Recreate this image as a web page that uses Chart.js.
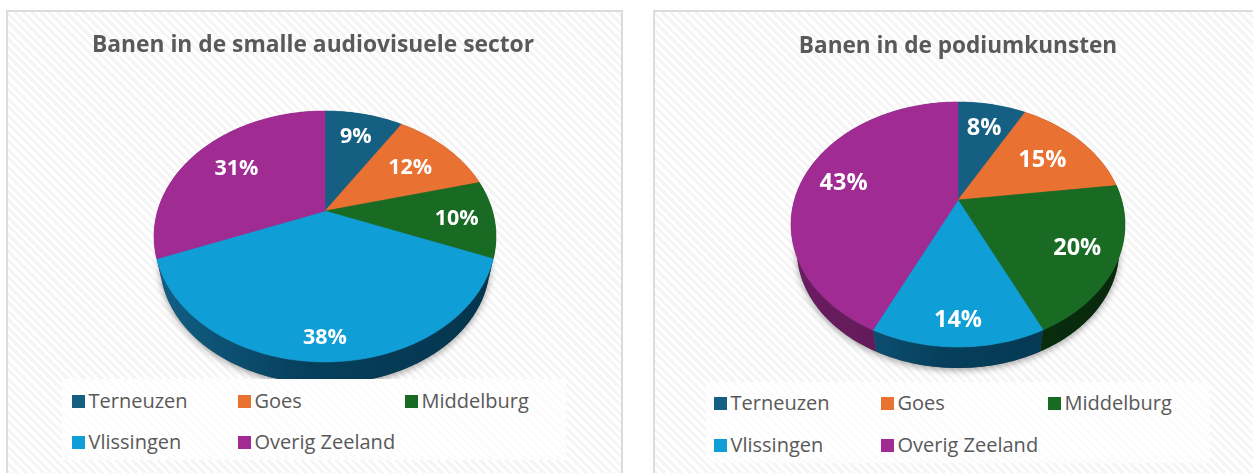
<!DOCTYPE html>
<html lang="nl">
<head>
<meta charset="utf-8">
<title>Banen in Zeeland</title>
<script src="https://cdn.jsdelivr.net/npm/chart.js@4"></script>
<style>
html,body{margin:0;padding:0;width:1253px;height:473px;overflow:hidden;background:#fff;font-family:"Open Sans",sans-serif}
.panel{position:absolute;top:10px;height:470px;box-sizing:border-box;border:2px solid #dcdcdc;
background:repeating-linear-gradient(45deg,#fff 0 3px,#f5f5f5 3px 6px)}
canvas{position:absolute;top:11px}
.legend{position:absolute;background:repeating-linear-gradient(45deg,#fff 0 3px,#fcfcfc 3px 6px);width:504px;height:81px}
.item{position:absolute;display:flex;align-items:center;color:#595959;font-size:20px;line-height:24px;white-space:nowrap}
.item i{display:block;width:13px;height:13px;margin-right:3.5px}
</style>
</head>
<body>
<div class="panel" style="left:6px;width:617px"></div>
<div class="panel" style="left:653px;width:640px"></div>
<canvas id="c1" width="612" height="462" style="left:7px"></canvas>
<canvas id="c2" width="590" height="462" style="left:663px"></canvas>
<div class="legend" id="l1" style="left:62px;top:379px"></div>
<div class="legend" id="l2" style="left:706px;top:382px"></div>
<script>
const categories = ["Terneuzen", "Goes", "Middelburg", "Vlissingen", "Overig Zeeland"];
const audiovisueelValues = [9, 12, 10, 38, 31];
const podiumValues = [8, 15, 20, 14, 43];
const audiovisueelTitle = "Banen in de smalle audiovisuele sector";
const podiumTitle = "Banen in de podiumkunsten";
const topColors = ["#156082", "#E97132", "#196B24", "#0F9ED5", "#A02B93"];

const sideColors = [
  ["#125a7c", "#0b4560", "#073650"],
  ["#a04a1c", "#7a3714", "#5c290e"],
  ["#0e4416", "#0a3210", "#08280c"],
  ["#125f84", "#063f5c", "#05354e"],
  ["#6a1c61", "#5e1a56", "#4e1547"]
];

/* Disc coordinates from the arc elements are put through a perspective projection. */
function project(view, el, angle, f){
  const u = Math.cos(angle) * f, v = Math.sin(angle) * f;
  const w = 1 - view.k * v;
  return { x: el.x + view.dx + view.A * u / w, y: el.y + view.B * v / w };
}

function arcPoints(view, el, a, b){
  const n = Math.max(4, Math.ceil((b - a) / 0.02)), pts = [];
  for (let i = 0; i <= n; i++) pts.push(project(view, el, a + (b - a) * i / n, 1));
  return pts;
}

/* Lower rim of the wall: same outline, slightly further from the eye. */
function lowerRim(view, el, p){
  const ax = el.x + view.dx, ay = el.y, s = view.rimScale;
  return { x: ax + (p.x - ax) * s, y: ay + view.depth + (1 - s) * view.B / (1 - view.k) + (p.y - ay) * s };
}

const tiltedPie = {
  id: "tiltedPie",
  beforeDatasetDraw(chart, args, opts){
    const ctx = chart.ctx, view = opts;
    const arcs = chart.getDatasetMeta(0).data.map(e => e.getProps(["x","y","startAngle","endAngle"], true));
    const first = arcs[0];
    const cx = first.x + view.dx;

    // soft shadow under the disc
    ctx.save();
    ctx.shadowColor = "rgba(0,0,0,0.38)";
    ctx.shadowBlur = 7;
    ctx.shadowOffsetY = 2;
    ctx.fillStyle = "#555";
    ctx.beginPath();
    arcPoints(view, first, -Math.PI/2, Math.PI*1.5).forEach((p,i)=>{
      const q = lowerRim(view, first, p);
      i ? ctx.lineTo(q.x,q.y) : ctx.moveTo(q.x,q.y);
    });
    ctx.closePath(); ctx.fill();
    ctx.restore();

    // side wall
    arcs.forEach((el,i)=>{
      const pts = arcPoints(view, el, el.startAngle, el.endAngle);
      const g = ctx.createLinearGradient(cx - view.A, 0, cx + view.A, 0);
      g.addColorStop(0, sideColors[i][0]);
      g.addColorStop(0.45, sideColors[i][1]);
      g.addColorStop(1, sideColors[i][2]);
      ctx.fillStyle = g;
      ctx.beginPath();
      pts.forEach((p,j)=> j ? ctx.lineTo(p.x,p.y) : ctx.moveTo(p.x,p.y));
      pts.slice().reverse().forEach(p=>{ const q = lowerRim(view, el, p); ctx.lineTo(q.x,q.y); });
      ctx.closePath(); ctx.fill();
    });

    // top surface
    arcs.forEach((el,i)=>{
      const pts = arcPoints(view, el, el.startAngle, el.endAngle);
      ctx.fillStyle = topColors[i];
      ctx.strokeStyle = topColors[i];
      ctx.lineWidth = 0.6;
      ctx.beginPath();
      const c = project(view, el, 0, 0);
      ctx.moveTo(c.x, c.y);
      pts.forEach(p=> ctx.lineTo(p.x,p.y));
      ctx.closePath(); ctx.fill(); ctx.stroke();
    });

    // value labels
    ctx.fillStyle = "#fff";
    ctx.font = 'bold ' + view.labelSize + 'px "Open Sans"';
    ctx.textAlign = "center";
    ctx.textBaseline = "middle";
    const values = chart.data.datasets[0].data;
    arcs.forEach((el,i)=>{
      const p = project(view, el, (el.startAngle + el.endAngle)/2, view.labelReach[i]);
      ctx.fillText(values[i] + "%", p.x, p.y + 1.5);
    });
    return false;
  }
};

function makePie(id, title, values, titleSize, titleTop, bottomPad, view){
  return new Chart(document.getElementById(id), {
    type: "pie",
    data: { labels: categories, datasets: [{ data: values, backgroundColor: topColors, borderWidth: 0 }] },
    options: {
      responsive: false,
      animation: false,
      layout: { padding: { bottom: bottomPad } },
      plugins: {
        legend: { display: false },
        tooltip: { enabled: false },
        title: {
          display: true, text: title, color: "#595959",
          font: { family: "Open Sans", size: titleSize, weight: "bold", lineHeight: 1.2 },
          padding: { top: titleTop, bottom: 0 }
        },
        tiltedPie: view
      }
    },
    plugins: [tiltedPie]
  });
}

function makeLegend(id, cols, rows){
  const box = document.getElementById(id);
  categories.forEach((name,i)=>{
    const d = document.createElement("div");
    d.className = "item";
    d.style.left = cols[i % 3] + "px";
    d.style.top = rows[Math.floor(i / 3)] + "px";
    const s = document.createElement("i");
    s.style.background = topColors[i];
    d.appendChild(s);
    d.appendChild(document.createTextNode(name));
    box.appendChild(d);
  });
}

// title block height = titleTop + 1.2 * titleSize; bottom padding keeps the apex at the wanted height
makePie("c1", audiovisueelTitle, audiovisueelValues, 22.8, 21.3, 462 - (400 - (21.3 + 27.36)),
  { k: 0.203, A: 167.4, B: 120.3, dx: 12, depth: 22, rimScale: 0.965, labelSize: 21.5, labelReach: [0.755, 0.68, 0.78, 0.86, 0.69] });
makePie("c2", podiumTitle, podiumValues, 22.6, 22, 462 - (378 - (22 + 27.12)),
  { k: 0.2, A: 163.6, B: 117.6, dx: 0, depth: 21, rimScale: 0.965, labelSize: 23.5, labelReach: [0.73, 0.67, 0.77, 0.84, 0.74] });
makeLegend("l1", [10, 176, 343], [10, 51]);
makeLegend("l2", [8, 175, 342], [9, 51]);
</script>
</body>
</html>
